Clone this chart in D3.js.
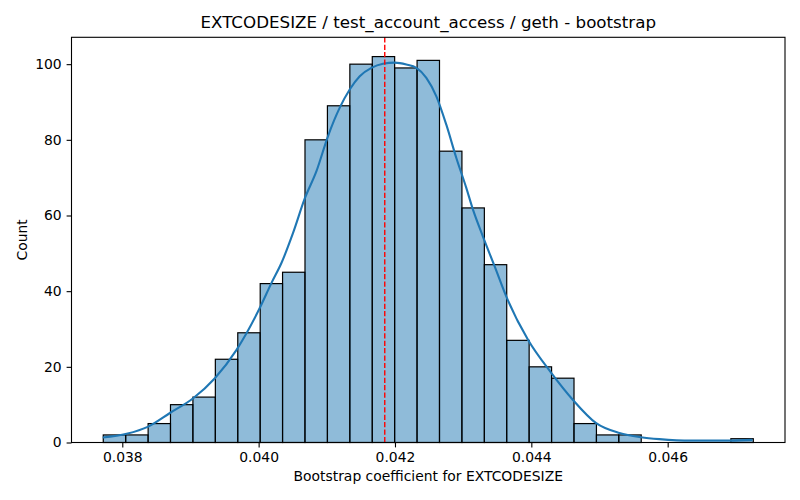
<!DOCTYPE html>
<html>
<head>
<meta charset="utf-8">
<script src="https://cdn.jsdelivr.net/npm/d3@7"></script>
<style>
  body { margin: 0; background: #fff; }
  text { font-family: "DejaVu Sans", sans-serif; fill: #000; }
</style>
</head>
<body>
<div id="chart"></div>
<script>
// histogram bin edges (30 edges -> 29 bins) and counts
const binEdges = [
    0.037721, 0.038050, 0.038379, 0.038707, 0.039036, 0.039365, 0.039694, 0.040023,
    0.040351, 0.040680, 0.041009, 0.041338, 0.041667, 0.041995, 0.042324, 0.042653,
    0.042982, 0.043311, 0.043639, 0.043968, 0.044297, 0.044626, 0.044955, 0.045283,
    0.045612, 0.045941, 0.046270, 0.046599, 0.046927, 0.047256
];
const counts = [2, 2, 5, 10, 12, 22, 29, 42, 45, 80, 89, 100, 102, 99, 101, 77,
    62, 47, 27, 20, 17, 5, 2, 2, 0, 0, 0, 0, 1];

// kde curve (coefficient, count scale)
const kdeX = [0.037713, 0.038064, 0.038381, 0.038699, 0.039040, 0.039358, 0.039676, 0.040018,
    0.040189, 0.040336, 0.040505, 0.040677, 0.040848, 0.041018, 0.041190, 0.041336,
    0.041483, 0.041654, 0.041824, 0.041996, 0.042167, 0.042314, 0.042460, 0.042607,
    0.042753, 0.042900, 0.043046, 0.043143, 0.043289, 0.043461, 0.043632, 0.043949,
    0.044292, 0.044608, 0.044951, 0.045292, 0.045610, 0.045878, 0.046350, 0.046904, 0.047241];
const kdeY = [1.3, 2.3, 4.2, 7.8, 11.7, 17.0, 24.5, 35.6,
    42.2, 47.5, 55.4, 64.5, 71.7, 81.0, 88.5, 93.3,
    96.8, 99.0, 100.1, 100.4, 99.9, 99.0, 96.4, 91.5,
    84.0, 75.2, 67.3, 61.6, 54.5, 46.6, 38.6, 27.2,
    18.4, 11.3, 5.1, 2.5, 1.4, 0.9, 0.5, 0.5, 0.7];

const meanLine = 0.04185;
const xTicks = [0.038, 0.040, 0.042, 0.044, 0.046];
const yTicks = [0, 20, 40, 60, 80, 100];
const xDomain = [0.037255, 0.047721];
const yDomain = [0, 107.1];

const title = "EXTCODESIZE / test_account_access / geth - bootstrap";
const xLabel = "Bootstrap coefficient for EXTCODESIZE";
const yLabel = "Count";

const width = 800;
const height = 500;
const plotL = 71.5, plotR = 785, plotT = 37.3, plotB = 442.5;

const svg = d3.select("#chart")
    .append("svg")
    .attr("width", width)
    .attr("height", height);

const x = d3.scaleLinear().domain(xDomain).range([plotL, plotR]);
const y = d3.scaleLinear().domain(yDomain).range([plotB, plotT]);

const bins = counts.map((c, i) => ({ x0: binEdges[i], x1: binEdges[i + 1], count: c }));

// bars
svg.append("g")
    .selectAll("rect")
    .data(bins.filter(d => d.count > 0))
    .join("rect")
    .attr("x", d => x(d.x0))
    .attr("y", d => y(d.count))
    .attr("width", d => x(d.x1) - x(d.x0))
    .attr("height", d => y(0) - y(d.count))
    .attr("fill", "rgba(31, 119, 180, 0.5)")
    .attr("stroke", "#000")
    .attr("stroke-width", 1.2);

// kde
const kde = kdeX.map((v, i) => [v, kdeY[i]]);
svg.append("path")
    .datum(kde)
    .attr("d", d3.line().x(d => x(d[0])).y(d => y(d[1])).curve(d3.curveMonotoneX))
    .attr("fill", "none")
    .attr("stroke", "#1f77b4")
    .attr("stroke-width", 2.1);

// mean line
svg.append("line")
    .attr("x1", x(meanLine))
    .attr("x2", x(meanLine))
    .attr("y1", plotT)
    .attr("y2", plotB)
    .attr("stroke", "red")
    .attr("stroke-width", 1.4)
    .attr("stroke-dasharray", "5.2,2.2");

// axes
const fs = 13.9;
const xAxis = svg.append("g")
    .attr("transform", `translate(0,${plotB})`)
    .call(d3.axisBottom(x).tickValues(xTicks).tickFormat(d3.format(".3f"))
        .tickSize(4.9).tickPadding(4.9));
const yAxis = svg.append("g")
    .attr("transform", `translate(${plotL},0)`)
    .call(d3.axisLeft(y).tickValues(yTicks).tickFormat(d3.format("d"))
        .tickSize(4.9).tickPadding(4.9));

[xAxis, yAxis].forEach(g => {
    g.select(".domain").remove();
    g.selectAll(".tick line").attr("stroke", "#000").attr("stroke-width", 1.1);
    g.selectAll(".tick text").attr("font-size", fs).attr("font-family", "DejaVu Sans");
});

// frame
svg.append("rect")
    .attr("x", plotL)
    .attr("y", plotT)
    .attr("width", plotR - plotL)
    .attr("height", plotB - plotT)
    .attr("fill", "none")
    .attr("stroke", "#000")
    .attr("stroke-width", 1.1);

// labels
svg.append("text")
    .attr("x", (plotL + plotR) / 2)
    .attr("y", 28.3)
    .attr("text-anchor", "middle")
    .attr("font-size", 16.7)
    .text(title);

svg.append("text")
    .attr("x", (plotL + plotR) / 2)
    .attr("y", 481.3)
    .attr("text-anchor", "middle")
    .attr("font-size", fs)
    .text(xLabel);

svg.append("text")
    .attr("transform", `translate(26.5,${(plotT + plotB) / 2}) rotate(-90)`)
    .attr("text-anchor", "middle")
    .attr("font-size", fs)
    .text(yLabel);
</script>
</body>
</html>
